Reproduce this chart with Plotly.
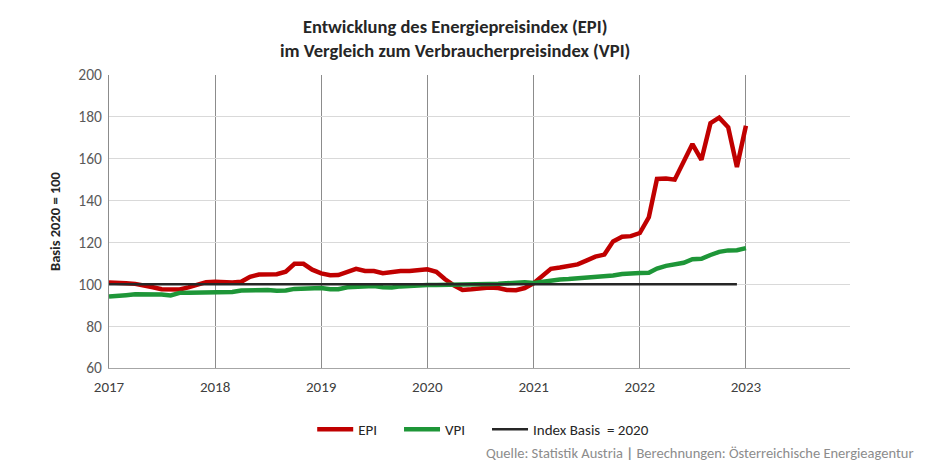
import plotly.graph_objects as go
import pandas as pd

months = pd.date_range("2017-01-01", "2023-01-01", freq="MS")

epi = [
    # 2017
    100.8, 100.9, 100.5, 100.2, 99.6, 98.6, 97.6, 97.3, 97.5, 98.5, 99.6, 101.0,
    # 2018
    101.2, 100.9, 100.8, 101.2, 103.6, 104.7, 105.0, 104.8, 106.0, 109.8, 109.8, 107.0,
    # 2019
    105.2, 104.3, 104.4, 106.0, 107.4, 106.4, 106.3, 105.3, 106.0, 106.3, 106.3, 106.5,
    # 2020
    107.2, 106.0, 102.5, 99.5, 97.3, 97.6, 98.1, 98.5, 98.2, 97.3, 97.2, 98.2,
    # 2021
    100.5, 104.0, 107.4, 108.0, 108.8, 109.5, 111.3, 113.2, 114.2, 120.5, 122.7, 123.0,
    # 2022
    124.5, 132.0, 150.3, 150.5, 150.0, 158.5, 167.0, 159.5, 177.0, 179.6, 175.0, 156.0,
    # 2023
    175.8,
]

vpi = [
    # 2017
    94.2, 94.3, 94.8, 95.2, 95.3, 95.3, 95.1, 94.7, 95.9, 96.0, 96.1, 96.4,
    # 2018
    96.5, 96.2, 96.3, 97.0, 97.2, 97.2, 97.3, 96.9, 97.0, 97.8, 98.0, 98.0,
    # 2019
    98.2, 97.6, 97.6, 98.6, 98.8, 99.0, 99.2, 98.6, 98.5, 99.0, 99.3, 99.5,
    # 2020
    99.6, 99.6, 99.6, 99.8, 99.7, 99.8, 100.0, 100.1, 100.2, 100.4, 100.5, 101.0,
    # 2021
    100.6, 101.2, 101.9, 102.3, 102.5, 102.8, 103.0, 103.2, 103.5, 104.2, 104.9, 105.3,
    # 2022
    105.4, 105.5, 107.5, 108.8, 109.3, 110.3, 112.0, 112.2, 114.0, 115.5, 116.2, 116.3,
    # 2023
    117.3,
]

basis_months = months[:-1]
basis = [100] * len(basis_months)

title_text = "<b>Entwicklung des Energiepreisindex (EPI)<br>im Vergleich zum Verbraucherpreisindex (VPI)</b>"
source_text = "Quelle: Statistik Austria <b>|</b> Berechnungen: Österreichische Energieagentur"
y_title = "<b>Basis 2020 = 100</b>"
NB = "\u00a0" * 5

FONT = "Carlito, Lato, Liberation Sans, sans-serif"

fig = go.Figure()
fig.add_trace(go.Scatter(x=months, y=epi, name="EPI" + NB, mode="lines",
                         line=dict(color="#C00000", width=4.5)))
fig.add_trace(go.Scatter(x=months, y=vpi, name="VPI" + NB, mode="lines",
                         line=dict(color="#1E9638", width=4.5)))
fig.add_trace(go.Scatter(x=basis_months, y=basis, name="Index Basis  = 2020", mode="lines",
                         line=dict(color="#262626", width=2.5)))

fig.update_layout(
    width=922, height=456,
    margin=dict(l=101, r=80, t=67, b=96),
    paper_bgcolor="white", plot_bgcolor="white",
    font=dict(family=FONT, size=14, color="#595959"),
    title=dict(text=title_text, x=0.485, xanchor="center", y=0.945, yanchor="top",
               font=dict(family=FONT, size=18.5, color="#262626")),
    showlegend=True,
    legend=dict(orientation="h", x=0.505, xanchor="center", y=-0.21, yanchor="middle",
                font=dict(family=FONT, size=15, color="#262626"),
                itemwidth=36, tracegroupgap=0),
    xaxis=dict(type="date", range=["2017-01-01", "2023-12-25"],
               dtick="M12", tickformat="%Y", tick0="2017-01-01",
               showgrid=True, gridcolor="#8C8C8C", gridwidth=1,
               showline=True, linecolor="#A6A6A6", linewidth=1,
               ticks="outside", ticklen=5, tickcolor="rgba(0,0,0,0)",
               tickfont=dict(size=15, color="#404040"),
               zeroline=False),
    yaxis=dict(range=[60, 200], dtick=20, showgrid=True, gridcolor="#D9D9D9",
               gridwidth=1, showline=True, linecolor="#8C8C8C", linewidth=1,
               ticks="outside", ticklen=3, tickcolor="rgba(0,0,0,0)",
               tickfont=dict(size=15.5, color="#595959"),
               title=dict(text=y_title, font=dict(family=FONT, size=14.5, color="#262626"),
                          standoff=14),
               zeroline=False),
    annotations=[dict(text=source_text, xref="paper", yref="paper",
                      x=1.088, y=-0.29, xanchor="right", yanchor="middle",
                      showarrow=False,
                      font=dict(family=FONT, size=14.5, color="#8C8C8C"))],
)

fig.write_html("out.html")
